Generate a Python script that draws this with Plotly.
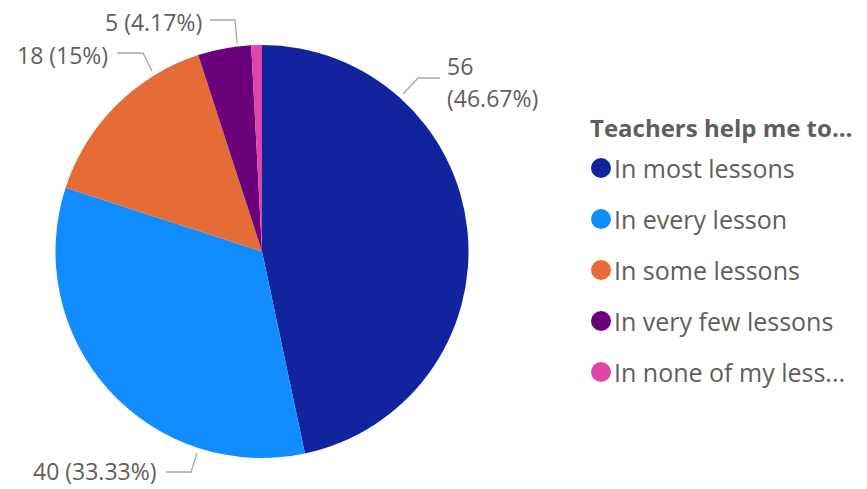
import plotly.graph_objects as go

categories = ["In most lessons", "In every lesson", "In some lessons", "In very few lessons", "In none of my lessons"]
legend_labels = ["In most lessons", "In every lesson", "In some lessons", "In very few lessons", "In none of my less..."]
values = [56, 40, 18, 5, 1]
colors = ["#12239E", "#118DFF", "#E66C37", "#6B007B", "#E044A7"]
legend_title = "Teachers help me to..."

W, H = 867, 489
FONT = "Open Sans"
GREY = "#605E5C"
LINE = "#A6A6A6"


def px(x):
    return x / W


def py(y):
    return 1 - y / H


total = sum(values)


def pct(v):
    s = f"{100 * v / total:.2f}".rstrip("0").rstrip(".")
    return s + "%"


fig = go.Figure()
fig.add_trace(go.Pie(
    labels=categories, values=values, sort=False, direction="clockwise", rotation=0,
    marker=dict(colors=colors, line=dict(width=0)),
    textinfo="none", hoverinfo="label+value+percent", showlegend=False,
    domain=dict(x=[px(55), px(469)], y=[py(458), py(45)]),
))

ann = []
shapes = []
lf = dict(family=FONT, size=23, color=GREY)

# data labels with leader lines
ann.append(dict(x=px(445), y=py(66), text=str(values[0]), xanchor="left", yanchor="middle", showarrow=False, font=lf))
ann.append(dict(x=px(445), y=py(98), text=f"({pct(values[0])})", xanchor="left", yanchor="middle", showarrow=False, font=lf))
shapes.append(dict(type="path", path=f"M {px(403)} {py(94)} L {px(418)} {py(78)} L {px(440)} {py(78)}"))

ann.append(dict(x=px(159), y=py(471), text=f"{values[1]} ({pct(values[1])})", xanchor="right", yanchor="middle", showarrow=False, font=lf))
shapes.append(dict(type="path", path=f"M {px(166)} {py(472)} L {px(191)} {py(472)} L {px(197)} {py(453)}"))

ann.append(dict(x=px(110), y=py(55), text=f"{values[2]} ({pct(values[2])})", xanchor="right", yanchor="middle", showarrow=False, font=lf))
shapes.append(dict(type="path", path=f"M {px(117)} {py(53)} L {px(143)} {py(53)} L {px(152)} {py(71)}"))

ann.append(dict(x=px(204), y=py(22), text=f"{values[3]} ({pct(values[3])})", xanchor="right", yanchor="middle", showarrow=False, font=lf))
shapes.append(dict(type="path", path=f"M {px(210)} {py(20)} L {px(235)} {py(20)} L {px(237)} {py(43)}"))

for s in shapes:
    s.update(xref="paper", yref="paper", line=dict(color=LINE, width=1.3))

# legend
ann.append(dict(x=px(588), y=py(128), text=f"<b>{legend_title}</b>", xanchor="left", yanchor="middle",
                showarrow=False, font=dict(family=FONT, size=24, color=GREY)))
for i, (lab, col) in enumerate(zip(legend_labels, colors)):
    yc = 168 + i * 51
    shapes.append(dict(type="circle", xref="paper", yref="paper",
                       x0=px(591), x1=px(611), y0=py(yc + 10), y1=py(yc - 10),
                       fillcolor=col, line=dict(width=0)))
    ann.append(dict(x=px(612), y=py(yc), text=lab, xanchor="left", yanchor="middle", showarrow=False,
                    font=dict(family=FONT, size=25, color=GREY)))

fig.update_layout(
    width=W, height=H, margin=dict(l=0, r=0, t=0, b=0),
    paper_bgcolor="white", plot_bgcolor="white",
    annotations=ann, shapes=shapes, showlegend=False,
)
fig.write_html("out.html", config={"displayModeBar": False},
               post_script="document.body.style.margin='0px';document.body.style.overflow='hidden';")
